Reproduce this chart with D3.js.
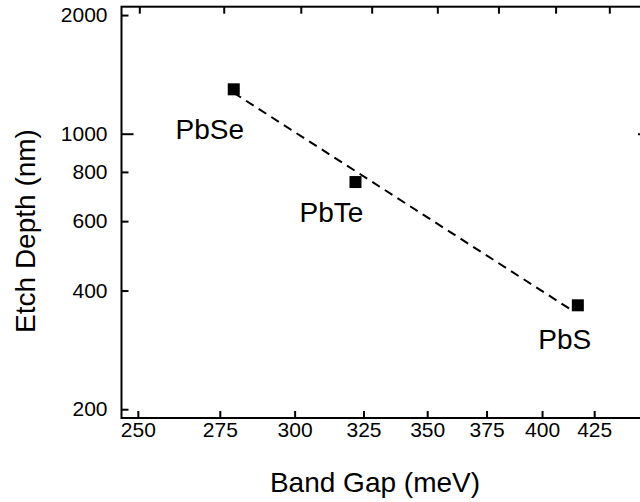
<!DOCTYPE html>
<html>
<head>
<meta charset="utf-8">
<script src="https://cdn.jsdelivr.net/npm/d3@7"></script>
<style>
  body { margin: 0; background: #fff; }
  svg { display: block; font-family: "Liberation Sans", Arial, sans-serif; }
</style>
</head>
<body>
<div id="chart"></div>
<script>
// data
const compounds = ["PbSe", "PbTe", "PbS"];
const bandGap = [279.5, 322, 417];      // meV
const etchDepth = [1296, 754, 367];     // nm
const fitGap = [279.4, 413.6];
const fitDepth = [1271, 358];
const xTicks = [250, 275, 300, 325, 350, 375, 400, 425];
const yTicks = [200, 400, 600, 800, 1000, 2000];
const yMajor = [1000];

const width = 640, height = 502;
const margin = { top: 6.7, right: -10, bottom: 84, left: 121.5 };

const svg = d3.select("#chart").append("svg")
    .attr("width", width)
    .attr("height", height);

const x = d3.scaleLog()
    .domain([245.3, 453.5])
    .range([margin.left, width - margin.right]);

// the top axis of the original is drawn on a slightly different scale
const xTop = d3.scaleLog()
    .domain([250, 425])
    .range([139.3, 609.3]);

const y = d3.scaleLog()
    .domain([190, 2100])
    .range([height - margin.bottom, margin.top]);

const plotL = x.range()[0], plotR = x.range()[1];
const plotT = y.range()[1], plotB = y.range()[0];

// frame
svg.append("rect")
    .attr("x", plotL).attr("y", plotT)
    .attr("width", plotR - plotL).attr("height", plotB - plotT)
    .attr("fill", "none").attr("stroke", "#000").attr("stroke-width", 2);

// bottom axis
const xAxis = svg.append("g")
    .attr("transform", `translate(0,${plotB})`)
    .call(d3.axisBottom(x).tickValues(xTicks).tickFormat(d3.format("d"))
        .tickSizeInner(-7).tickSizeOuter(0).tickPadding(4.5));
xAxis.select(".domain").remove();
xAxis.selectAll("line").attr("stroke-width", 2);
xAxis.selectAll("text").style("font-size", "21px").attr("fill", "#000");

// top axis, ticks only
const xAxisTop = svg.append("g")
    .attr("transform", `translate(0,${plotT})`)
    .call(d3.axisTop(xTop).tickValues(xTicks).tickFormat("")
        .tickSizeInner(-7).tickSizeOuter(0));
xAxisTop.select(".domain").remove();
xAxisTop.selectAll("line").attr("stroke-width", 2);

// left axis
const yAxis = svg.append("g")
    .attr("transform", `translate(${plotL},0)`)
    .call(d3.axisLeft(y).tickValues(yTicks).tickFormat(d3.format("d"))
        .tickSizeInner(0).tickSizeOuter(0).tickPadding(14));
yAxis.select(".domain").remove();
yAxis.selectAll(".tick line")
    .attr("x2", d => yMajor.includes(d) ? 12 : 7)
    .attr("stroke-width", 2);
yAxis.selectAll("text").style("font-size", "21px").attr("fill", "#000");

// right axis, ticks only
const yAxisR = svg.append("g")
    .attr("transform", `translate(${plotR},0)`)
    .call(d3.axisRight(y).tickValues(yTicks).tickFormat("")
        .tickSizeInner(0).tickSizeOuter(0));
yAxisR.select(".domain").remove();
yAxisR.selectAll(".tick line")
    .attr("x2", d => yMajor.includes(d) ? -12 : -7)
    .attr("stroke-width", 2);

// axis titles
svg.append("text")
    .attr("x", 375).attr("y", 492)
    .attr("text-anchor", "middle")
    .style("font-size", "28px")
    .text("Band Gap (meV)");

svg.append("text")
    .attr("transform", "translate(35,231) rotate(-90)")
    .attr("text-anchor", "middle")
    .style("font-size", "28px")
    .text("Etch Depth (nm)");

// fit line
const fit = fitGap.map((g, i) => ({ g: g, d: fitDepth[i] }));
svg.append("path")
    .datum(fit)
    .attr("fill", "none")
    .attr("stroke", "#000")
    .attr("stroke-width", 2)
    .attr("stroke-dasharray", "9,6")
    .attr("d", d3.line().x(d => x(d.g)).y(d => y(d.d)));

// points
const points = compounds.map((c, i) => ({ name: c, g: bandGap[i], d: etchDepth[i] }));
const s = 12;
svg.selectAll(".pt")
    .data(points)
    .enter().append("rect")
    .attr("class", "pt")
    .attr("x", d => x(d.g) - s / 2)
    .attr("y", d => y(d.d) - s / 2)
    .attr("width", s).attr("height", s)
    .attr("fill", "#000");

// labels (offsets from marker)
const labelOffset = [[-24, 50], [-24, 40], [-13, 44]];
svg.selectAll(".lbl")
    .data(points)
    .enter().append("text")
    .attr("class", "lbl")
    .attr("x", (d, i) => x(d.g) + labelOffset[i][0])
    .attr("y", (d, i) => y(d.d) + labelOffset[i][1])
    .attr("text-anchor", "middle")
    .style("font-size", "28px")
    .text(d => d.name);
</script>
</body>
</html>
